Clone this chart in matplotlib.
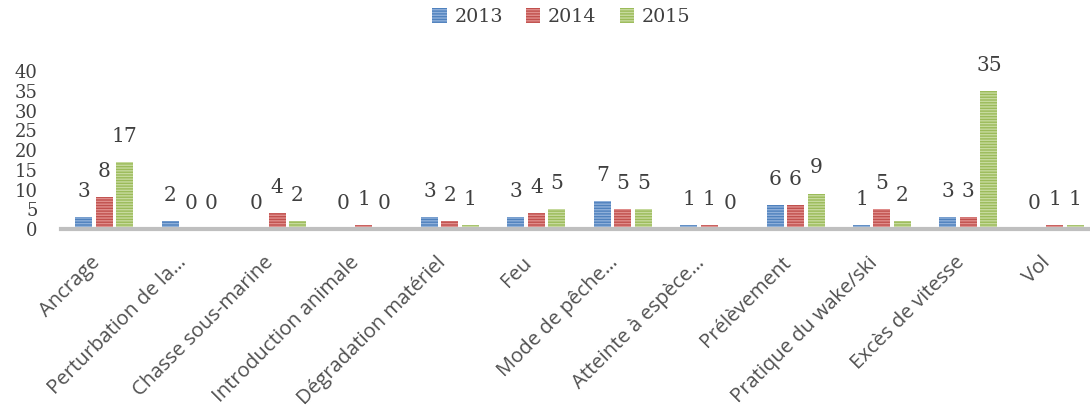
import matplotlib
matplotlib.use("Agg")
import matplotlib.pyplot as plt
import numpy as np

categories = ["Ancrage", "Perturbation de la…", "Chasse sous-marine", "Introduction animale",
              "Dégradation matériel", "Feu", "Mode de pêche…", "Atteinte à espèce…",
              "Prélèvement", "Pratique du wake/ski", "Excès de vitesse", "Vol"]
years = ["2013", "2014", "2015"]
v2013 = [3, 2, 0, 0, 3, 3, 7, 1, 6, 1, 3, 0]
v2014 = [8, 0, 4, 1, 2, 4, 5, 1, 6, 5, 3, 1]
v2015 = [17, 0, 2, 0, 1, 5, 5, 0, 9, 2, 35, 1]
yticks = [0, 5, 10, 15, 20, 25, 30, 35, 40]

series = [v2013, v2014, v2015]
colors = ["#4F81BD", "#C0504D", "#9BBB59"]
hatchcols = ["#8FB0DA", "#E08E8C", "#C7DA9E"]

plt.rcParams['hatch.linewidth'] = 1.0

fig = plt.figure(figsize=(10.9, 4.16), dpi=100)
ax = fig.add_axes([61/1090, 0.4495, 1037/1090, 0.3789])

x = np.arange(len(categories))
pitch = 0.237
width = 0.197
handles = []
for i, (vals, c, hc, yr) in enumerate(zip(series, colors, hatchcols, years)):
    pos = x + (i - 1) * pitch
    bars = ax.bar(pos, vals, width, color=c, edgecolor=hc, linewidth=0,
                  hatch='------', label=yr, zorder=2)
    handles.append(bars)
    for xp, v in zip(pos, vals):
        ax.annotate(str(v), (xp, v), xytext=(0, 18.5), textcoords='offset points',
                    ha='center', va='center', fontsize=14.5, family='DejaVu Serif',
                    color='#404040', annotation_clip=False)

ax.set_xlim(-0.5, len(categories) - 0.5)
ax.set_ylim(0, 40)
ax.set_yticks(yticks)
ax.set_yticklabels([str(t) for t in yticks], family='DejaVu Serif', fontsize=13, color='#404040')
ax.tick_params(axis='y', length=0, pad=17)
ax.set_xticks(x)
ax.set_xticklabels(categories, rotation=45, ha='right', va='top', rotation_mode='default',
                   family='Open Sans', fontsize=14.6, color='#505050')
ax.tick_params(axis='x', length=0, pad=17)

for s in ['left', 'top', 'right']:
    ax.spines[s].set_visible(False)
ax.spines['bottom'].set_color('#BFBFBF')
ax.spines['bottom'].set_linewidth(3)
ax.spines['bottom'].set_zorder(3)

leg = fig.legend(handles=handles, labels=years, loc='center', bbox_to_anchor=(0.515, 0.959),
                 ncol=3, frameon=False, prop={'family': 'DejaVu Serif', 'size': 13.8},
                 handlelength=0.75, handleheight=0.85, handletextpad=0.4, columnspacing=1.2)
for t in leg.get_texts():
    t.set_color('#404040')

fig.savefig("out.png", dpi=100)
